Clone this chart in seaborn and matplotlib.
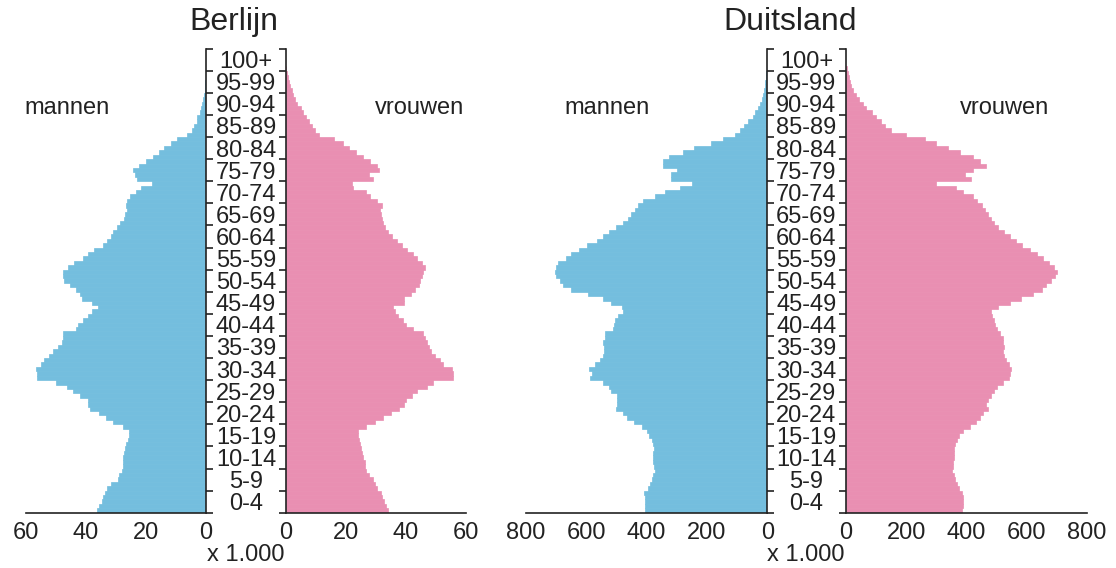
import numpy as np
import pandas as pd
import seaborn as sns
from matplotlib import pyplot as plt

# single-year ages 0..100 (100 stands for 100+)
ages = list(range(0, 101))
group_labels = ["0-4", "5-9", "10-14", "15-19", "20-24", "25-29", "30-34",
                "35-39", "40-44", "45-49", "50-54", "55-59", "60-64", "65-69",
                "70-74", "75-79", "80-84", "85-89", "90-94", "95-99", "100+"]

# Berlijn, x 1.000
berlin_men = [36.2, 35.6, 34.8, 34.4, 33.7, 33.1, 31.8, 29.2, 28.9, 28.1,
              27.8, 27.6, 27.6, 27.3, 27.0, 26.7, 26.1, 25.6, 25.6, 27.6,
              31.1, 33.3, 35.6, 38.7, 39.2, 39.4, 42.0, 44.2, 46.4, 50.0,
              56.4, 56.4, 56.8, 55.1, 54.0, 52.2, 50.9, 49.2, 48.1, 47.8,
              47.6, 43.3, 42.6, 40.9, 39.2, 38.1, 35.9, 38.1, 41.4, 42.0,
              43.5, 45.5, 47.3, 47.6, 47.6, 45.9, 44.0, 40.9, 39.2, 37.3,
              34.2, 33.1, 31.8, 30.9, 29.6, 28.7, 27.3, 27.0, 26.4, 26.7,
              26.2, 25.3, 23.3, 21.8, 18.1, 23.1, 23.7, 24.4, 22.4, 20.0,
              17.8, 15.6, 13.9, 11.8, 9.6, 6.4, 4.8, 4.0, 2.9, 2.9,
              2.0, 1.8, 1.4, 0.9, 0.7, 0.4, 0.35, 0.3, 0.15, 0.1, 0.05]
berlin_women = [34.1, 33.3, 32.7, 31.9, 31.6, 30.4, 29.7, 28.9, 27.8, 26.7,
                26.4, 26.3, 25.8, 25.3, 24.9, 24.7, 24.3, 24.1, 24.1, 26.7,
                29.7, 32.2, 34.9, 37.8, 39.3, 40.0, 41.9, 43.6, 46.9, 49.1,
                55.8, 55.8, 55.2, 52.4, 51.3, 49.7, 48.2, 47.8, 46.9, 46.3,
                45.6, 42.2, 40.0, 38.9, 37.4, 36.3, 35.8, 39.3, 39.3, 41.6,
                43.0, 44.4, 44.7, 45.2, 45.8, 46.3, 45.2, 43.6, 42.4, 40.2,
                38.6, 36.9, 35.2, 34.1, 33.0, 32.2, 31.9, 31.6, 31.3, 31.9,
                30.4, 28.0, 26.7, 22.2, 21.9, 29.1, 27.8, 31.1, 30.2, 28.0,
                25.8, 23.3, 21.1, 18.9, 16.0, 11.1, 9.7, 8.6, 7.8, 6.7,
                5.8, 4.9, 3.8, 3.0, 2.2, 1.9, 1.3, 1.0, 0.6, 0.3, 0.1]

# Duitsland, x 1.000
germany_men = [404, 406, 406, 406, 409, 394, 389, 383, 378, 372,
               376, 378, 378, 380, 376, 378, 382, 391, 400, 417,
               442, 464, 477, 502, 499, 497, 499, 519, 524, 544,
               588, 582, 590, 571, 555, 544, 541, 541, 544, 538,
               538, 510, 508, 505, 494, 477, 483, 519, 546, 593,
               650, 676, 687, 701, 704, 701, 693, 667, 652, 623,
               599, 564, 544, 524, 500, 480, 461, 453, 439, 428,
               412, 373, 340, 290, 248, 320, 320, 300, 347, 347,
               325, 281, 243, 185, 148, 107, 91, 77, 63, 49,
               40, 32, 24, 18, 14, 11, 8, 6, 4, 3, 1]
germany_women = [385, 390, 390, 388, 385, 374, 370, 362, 358, 352,
                 355, 356, 360, 358, 360, 362, 368, 375, 390, 410,
                 430, 445, 455, 470, 465, 470, 480, 490, 500, 520,
                 540, 545, 548, 540, 530, 525, 520, 525, 520, 520,
                 510, 500, 495, 490, 485, 480, 505, 545, 580, 620,
                 650, 665, 680, 695, 700, 690, 675, 655, 635, 610,
                 585, 565, 545, 525, 505, 490, 480, 470, 460, 450,
                 435, 420, 390, 365, 300, 415, 395, 420, 465, 445,
                 420, 380, 340, 300, 262, 200, 150, 130, 115, 100,
                 85, 68, 55, 42, 32, 24, 18, 13, 9, 6, 3]

blue = "#74BEDE"
pink = "#E98FB2"
ink = "#222222"

sns.set_theme(style="white")
plt.rcParams["font.family"] = ["Liberation Sans", "DejaVu Sans"]
plt.rcParams["text.color"] = ink
plt.rcParams["xtick.color"] = ink
plt.rcParams["ytick.color"] = ink

fig = plt.figure(figsize=(11.16, 5.68), dpi=100)
fig.patch.set_facecolor("white")

W, H = 1116, 568
bottom = 1 - 512.7 / H
height = (512.7 - 48.6) / H


def draw_side(left_px, width_px, values, color, xmax, xticks, men, pad_pt):
    ax = fig.add_axes([left_px / W, bottom, width_px / W, height])
    df = pd.DataFrame({"age": np.array(ages) + 0.5, "count": values})
    sns.barplot(data=df, x="count", y="age", orient="h", native_scale=True,
                color=color, saturation=1, width=1, errorbar=None,
                edgecolor=color, linewidth=0.5, ax=ax)
    ax.set_ylim(0, 105)
    ax.set_xlabel("")
    ax.set_ylabel("")
    ax.set_facecolor("white")
    ax.set_xticks(xticks, [str(t) for t in xticks])
    major = list(range(0, 106, 5))
    ax.set_yticks(major, [""] * len(major))
    ax.spines["top"].set_visible(False)
    if men:
        ax.set_xlim(xmax, 0)
        ax.spines["left"].set_visible(False)
        ax.yaxis.tick_right()
        mids = [a + 2.5 for a in range(0, 101, 5)]
        ax.set_yticks(mids, group_labels, minor=True)
        ax.tick_params(axis="y", which="minor", length=0, pad=pad_pt,
                       labelsize=17)
        for lbl in ax.get_yticklabels(minor=True):
            lbl.set_horizontalalignment("center")
    else:
        ax.set_xlim(0, xmax)
        ax.spines["right"].set_visible(False)
        ax.yaxis.tick_left()
    for s in ["left", "right", "bottom"]:
        ax.spines[s].set_color(ink)
        ax.spines[s].set_linewidth(1.2)
    ax.tick_params(axis="y", which="major", length=5, width=1.2,
                   direction="out")
    ax.tick_params(axis="x", length=5, width=1.2, direction="out",
                   labelsize=17, pad=2)
    return ax


# Berlijn
draw_side(26, 180, berlin_men, blue, 60, [0, 20, 40, 60], True, 28.8)
draw_side(286, 180, berlin_women, pink, 60, [0, 20, 40, 60], False, 0)
# Duitsland
draw_side(526, 241.3, germany_men, blue, 800, [0, 200, 400, 600, 800], True, 28.2)
draw_side(846, 241, germany_women, pink, 800, [0, 200, 400, 600, 800], False, 0)

fig.text(234 / W, 1 - 22 / H, "Berlijn", ha="center", va="center", fontsize=23)
fig.text(790 / W, 1 - 22 / H, "Duitsland", ha="center", va="center", fontsize=23)

fig.text(67 / W, 1 - 108 / H, "mannen", ha="center", va="center", fontsize=17)
fig.text(420 / W, 1 - 108 / H, "vrouwen", ha="center", va="center", fontsize=17)
fig.text(607 / W, 1 - 108 / H, "mannen", ha="center", va="center", fontsize=17)
fig.text(1005 / W, 1 - 108 / H, "vrouwen", ha="center", va="center", fontsize=17)

fig.text(246 / W, 1 - 555 / H, "x 1.000", ha="center", va="center", fontsize=17)
fig.text(806 / W, 1 - 555 / H, "x 1.000", ha="center", va="center", fontsize=17)

plt.savefig("out.png", dpi=100)
